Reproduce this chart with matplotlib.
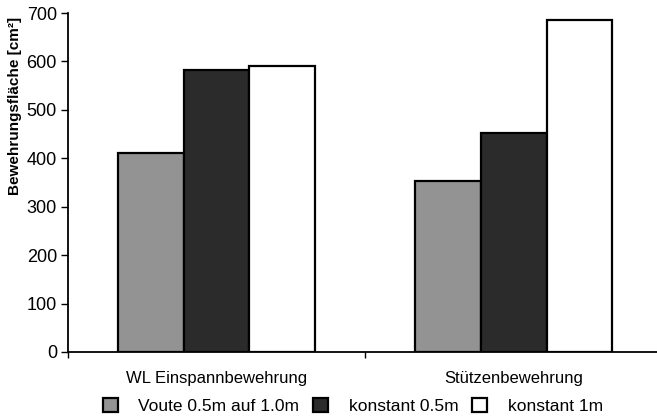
import numpy as np
import matplotlib.pyplot as plt
from matplotlib.patches import Patch

plt.rcParams['font.family'] = ['Liberation Sans', 'DejaVu Sans']

categories = ['WL Einspannbewehrung', 'Stützenbewehrung']
series = ['Voute 0.5m auf 1.0m', 'konstant 0.5m', 'konstant 1m']
voute = [410, 354]
konst05 = [582, 453]
konst1 = [590, 685]
values = [voute, konst05, konst1]
colors = ['#939393', '#2b2b2b', '#ffffff']

fig = plt.figure(figsize=(6.57, 4.16), dpi=100)
ax = fig.add_axes([68/657, 64/416, 1 - 68/657, 339/416])

x = np.arange(len(categories))
w = 0.222
for i in range(3):
    ax.bar(x + (i - 1)*w, values[i], w, color=colors[i], edgecolor='black', linewidth=1.6, zorder=2)

ax.set_xlim(-0.5, 1.483)
ax.set_ylim(0, 700)
ax.set_yticks(range(0, 701, 100))
ax.tick_params(axis='y', direction='out', length=5, width=1, labelsize=13, pad=3)
ax.set_xticks(x)
ax.set_xticklabels(categories, fontsize=12)
ax.tick_params(axis='x', which='major', length=0, pad=14)
ax.set_xticks([-0.5, 0.5], minor=True)
ax.tick_params(axis='x', which='minor', direction='out', length=4, width=1)

for s in ['top', 'right']:
    ax.spines[s].set_visible(False)
for s in ['left', 'bottom']:
    ax.spines[s].set_linewidth(1.3)

fig.text(15/657, 1 - 106/416, 'Bewehrungsfläche [cm²]', rotation=90, ha='center', va='center',
         fontsize=11, fontweight='bold')

handles = [Patch(facecolor=c, edgecolor='black', linewidth=1.6) for c in colors]
fig.legend(handles, series, loc='center', bbox_to_anchor=(353/657, 10/416), ncol=3, frameon=False,
           fontsize=12.5, handlelength=0.85, handleheight=0.85, handletextpad=1.2, columnspacing=0.8,
           borderpad=0, borderaxespad=0)

plt.savefig('out.png', dpi=100)
